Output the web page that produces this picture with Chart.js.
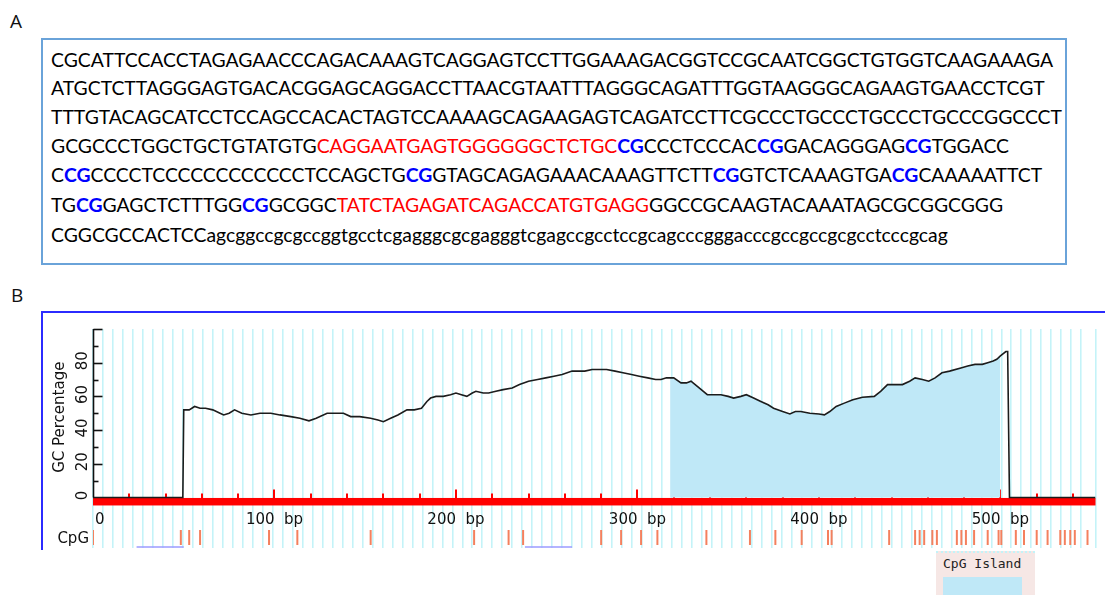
<!DOCTYPE html>
<html lang="en">
<head>
<meta charset="UTF-8" />
<title>CpG island</title>
<script src="https://cdn.jsdelivr.net/npm/chart.js@4.4.1/dist/chart.umd.min.js"></script>
<style>
	html, body { margin: 0; padding: 0; background: #fff; }
	body { width: 1105px; height: 595px; position: relative; overflow: hidden; font-family: "Open Sans", sans-serif; }
	.panel-label { position: absolute; font-size: 19px; line-height: 19px; color: #111; }
	#seqBox { position: absolute; left: 41px; top: 38px; width: 1022px; height: 223px; border: 2px solid #6aa3d9; }
	.row { position: absolute; left: 8px; white-space: nowrap; font-family: Lato, "Open Sans", sans-serif; line-height: 29px; color: #000; }
	.pr { color: #ff0000; }
	.cg { color: #0000ff; font-weight: bold; }
	#boxB { position: absolute; left: 41px; top: 311px; width: 1100px; height: 237px; border-left: 2px solid #2b2bff; border-top: 2px solid #2b2bff; }
	#gc { position: absolute; left: 0; top: 312px; }
	#legend { position: absolute; left: 936px; top: 551px; width: 99px; height: 44px; background: #f6e7e5; border-top: 2px dotted #c4f3f8; box-sizing: border-box; }
	#legend .t { position: absolute; left: 7px; top: 3px; font-family: "DejaVu Sans Mono", monospace; font-size: 13px; color: #222; }
	#legend .sw { position: absolute; left: 7px; top: 24px; width: 79px; height: 20px; background: #bfe8f7; }
</style>
</head>
<body>
	<div class="panel-label" style="left:10px; top:12px">A</div>
	<div id="seqBox">
		<div class="row" id="row1">CGCATTCCACCTAGAGAACCCAGACAAAGTCAGGAGTCCTTGGAAAGACGGTCCGCAATCGGCTGTGGTCAAGAAAGA</div>
		<div class="row">ATGCTCTTAGGGAGTGACACGGAGCAGGACCTTAACGTAATTTAGGGCAGATTTGGTAAGGGCAGAAGTGAACCTCGT</div>
		<div class="row">TTTGTACAGCATCCTCCAGCCACACTAGTCCAAAAGCAGAAGAGTCAGATCCTTCGCCCTGCCCTGCCCTGCCCGGCCCT</div>
		<div class="row">GCGCCCTGGCTGCTGTATGTG<span class="pr">CAGGAATGAGTGGGGGGCTCTGC</span><span class="cg">CG</span>CCCTCCCAC<span class="cg">CG</span>GACAGGGAG<span class="cg">CG</span>TGGACC</div>
		<div class="row">C<span class="cg">CG</span>CCCCTCCCCCCCCCCCCTCCAGCTG<span class="cg">CG</span>GTAGCAGAGAAACAAAGTTCTT<span class="cg">CG</span>GTCTCAAAGTGA<span class="cg">CG</span>CAAAAATTCT</div>
		<div class="row">TG<span class="cg">CG</span>GAGCTCTTTGG<span class="cg">CG</span>GCGGC<span class="pr">TATCTAGAGATCAGACCATGTGAGG</span>GGCCGCAAGTACAAATAGCGCGGCGGG</div>
		<div class="row">CGGCGCCACTCCagcggccgcgccggtgcctcgagggcgcgagggtcgagccgcctccgcagcccgggacccgccgccgcgcctcccgcag</div>
	</div>

	<div class="panel-label" style="left:11px; top:286px">B</div>
	<div id="boxB"></div>
	<canvas id="gc" width="1105" height="283"></canvas>
	<div id="legend"><span class="t">CpG Island</span><div class="sw"></div></div>

	<script>
		// GC percentage profile (position in bp, % GC)
		const gcPos = [0, 49.5, 50, 53, 56, 59, 62, 66, 70, 72, 75, 78, 82, 87, 92, 98, 103, 109, 114, 119, 123, 129, 134, 138, 142, 147, 153, 157, 160, 164, 168, 173, 177, 181, 184, 186, 189, 193, 197, 200, 203, 206, 209, 211, 215, 218, 222, 226, 231, 235, 240, 245, 249.5, 254, 258.5, 264, 268, 271, 275, 278.5, 283, 287.7, 292, 296.7, 301, 305.7, 310, 313, 316, 318, 320, 324, 327, 329.5, 334, 338.5, 342, 346, 350, 353, 357, 360, 364, 368, 372, 375, 380, 384, 387, 390, 395, 400, 403, 406, 409.5, 414, 418.7, 424, 430.5, 434, 437.8, 442, 446, 450, 453, 457, 460.5, 464, 467.8, 472, 478.7, 482, 486, 490, 493, 496, 498, 500, 503, 504, 505, 552.4];
		const gcVal = [0, 0, 52, 52, 54, 53, 53, 52, 50, 49, 50, 52, 50, 49, 50, 50, 49, 48, 47, 45.5, 47, 50, 50, 50, 48, 48, 47, 46, 45, 47, 49, 52, 52, 53, 57, 59, 60, 60, 61, 62, 61, 60, 62, 63, 62, 62, 63, 64, 65, 67, 69, 70, 71, 72, 73, 75, 75, 75, 76, 76, 76, 75, 74, 73, 72, 71, 70, 70, 71, 71, 71, 68, 68, 69, 65, 61, 61, 61, 60, 59, 60, 61, 59, 57, 55, 53, 51, 49.6, 51, 51, 50, 49.5, 49, 51, 54, 56, 58, 59.5, 60, 63, 67, 67, 67, 69, 71, 70, 69, 71, 74, 75, 77, 78, 79, 79, 80, 81, 82, 84, 86.6, 86.6, 0, 0];

		// CpG island extent (bp)
		const islandStart = 318;
		const islandEnd = 500;

		// CpG dinucleotide positions (bp)
		const cpgSites = [0, 48.4, 53, 59, 97, 112.6, 153, 210, 229, 237, 280, 291, 302, 311, 338, 362, 376, 390.5, 405, 407, 438.7, 453, 455.5, 458, 462.5, 465, 476, 478.5, 481, 485.5, 493, 499, 500.5, 508.5, 513, 520, 526, 533, 535.5, 538.5, 541, 548];

		// primer spans (bp)
		const primerStart = [24, 238];
		const primerEnd = [50, 264];

		const xTickVals = [0, 100, 200, 300, 400, 500];
		const xTickLabels = ["0", "100  bp", "200  bp", "300  bp", "400  bp", "500  bp"];
		const yTickVals = [0, 20, 40, 60, 80];
		const yTickLabels = ["0", "20", "40", "60", "80"];

		// fit the sequence rows to the box width
		const row1 = document.getElementById("row1");
		const rows = document.querySelectorAll(".row");
		rows.forEach((r) => (r.style.fontSize = "20px"));
		const fs = (20 * 1002) / row1.scrollWidth;
		const rowCenters = [59, 87.5, 116, 145, 174, 204, 234];
		rows.forEach((r, i) => {
			r.style.fontSize = fs + "px";
			r.style.top = rowCenters[i] - 14.5 - 40 + "px";
		});

		const gcPoints = gcPos.map((p, i) => ({ x: p, y: gcVal[i] }));
		const islandPoints = gcPoints.filter((p) => p.x >= islandStart && p.x <= islandEnd);
		const cpgRowY = -23.7;
		const primerRowY = -29.4;
		const primerPoints = [];
		primerStart.forEach((s, i) => {
			primerPoints.push({ x: s, y: primerRowY }, { x: primerEnd[i], y: primerRowY }, { x: primerEnd[i] + 1, y: null });
		});

		const axisPlugin = {
			id: "gcAxes",
			beforeDatasetsDraw(chart) {
				const { ctx } = chart;
				const x = chart.scales.x;
				const y = chart.scales.y;
				const y0 = y.getPixelForValue(0);
				ctx.save();
				// red base bar
				ctx.fillStyle = "#ff0000";
				ctx.fillRect(x.left, y0 + 0.5, x.right - x.left, 7.5);
				ctx.strokeStyle = "#ff0000";
				ctx.lineWidth = 2;
				for (let v = 20; v <= x.max; v += 20) {
					const px = Math.round(x.getPixelForValue(v));
					const h = v % 100 === 0 ? 8 : 4;
					ctx.beginPath();
					ctx.moveTo(px, y0 + 1);
					ctx.lineTo(px, y0 - h);
					ctx.stroke();
				}
				// x labels
				ctx.fillStyle = "#111";
				ctx.font = "15px 'DejaVu Sans'";
				ctx.textBaseline = "middle";
				xTickVals.forEach((v, i) => {
					const px = x.getPixelForValue(v);
					ctx.textAlign = v === 0 ? "left" : "center";
					ctx.fillText(xTickLabels[i], v === 0 ? px + 2 : px, y0 + 22.5);
				});
				// CpG row label
				ctx.textAlign = "right";
				ctx.fillText("CpG", x.left - 4, y.getPixelForValue(cpgRowY) + 1.5);
				ctx.restore();
			},
			afterDatasetsDraw(chart) {
				const { ctx } = chart;
				const x = chart.scales.x;
				const y = chart.scales.y;
				const y0 = y.getPixelForValue(0);
				const ax = x.left + 0.5;
				ctx.save();
				ctx.strokeStyle = "#111";
				ctx.lineWidth = 1.6;
				ctx.beginPath();
				ctx.moveTo(ax, y.getPixelForValue(100));
				ctx.lineTo(ax, y0);
				ctx.stroke();
				for (let v = 10; v <= 100; v += 10) {
					const py = Math.round(y.getPixelForValue(v)) + 0.5;
					ctx.beginPath();
					ctx.moveTo(ax, py);
					ctx.lineTo(ax + (v % 20 === 0 ? 9 : 5), py);
					ctx.stroke();
				}
				// rotated y labels
				ctx.fillStyle = "#111";
				ctx.font = "15px 'DejaVu Sans'";
				ctx.textAlign = "center";
				ctx.textBaseline = "middle";
				yTickVals.forEach((v, i) => {
					ctx.save();
					ctx.translate(x.left - 10, y.getPixelForValue(v) - 2);
					ctx.rotate(-Math.PI / 2);
					ctx.fillText(yTickLabels[i], 0, 0);
					ctx.restore();
				});
				ctx.save();
				ctx.translate(x.left - 33, (y0 + y.getPixelForValue(100)) / 2 + 4);
				ctx.rotate(-Math.PI / 2);
				ctx.fillText("GC Percentage", 0, 0);
				ctx.restore();
				ctx.restore();
			},
		};

		new Chart(document.getElementById("gc"), {
			type: "line",
			data: {
				datasets: [
					{ label: "GC", data: gcPoints, borderColor: "#1c1c1c", borderWidth: 1.6, pointRadius: 0, tension: 0, fill: false },
					{ label: "CpG", data: cpgSites.map((p) => ({ x: p, y: cpgRowY })), showLine: false, pointStyle: "line", pointRotation: 90, pointRadius: 7.5, pointBorderColor: "#f4805e", pointBorderWidth: 2 },
					{ label: "Primers", data: primerPoints, borderColor: "#9c9cff", borderWidth: 1.5, pointRadius: 0, spanGaps: false },
					{ label: "CpG Island", data: islandPoints, fill: "origin", backgroundColor: "#bfe8f7", borderWidth: 0, pointRadius: 0 },
				],
			},
			options: {
				responsive: false,
				animation: false,
				layout: { padding: { left: 93, top: 17, right: 0, bottom: 47 } },
				plugins: { legend: { display: false }, tooltip: { enabled: false } },
				scales: {
					x: {
						type: "linear",
						min: 0,
						max: 552.4,
						ticks: { display: false, stepSize: 5.5, autoSkip: false },
						grid: { color: "#c4f3f8", lineWidth: 1.6, drawTicks: false },
						border: { display: false },
					},
					y: { display: false, min: -30, max: 100 },
				},
			},
			plugins: [axisPlugin],
		});
	</script>
</body>
</html>
